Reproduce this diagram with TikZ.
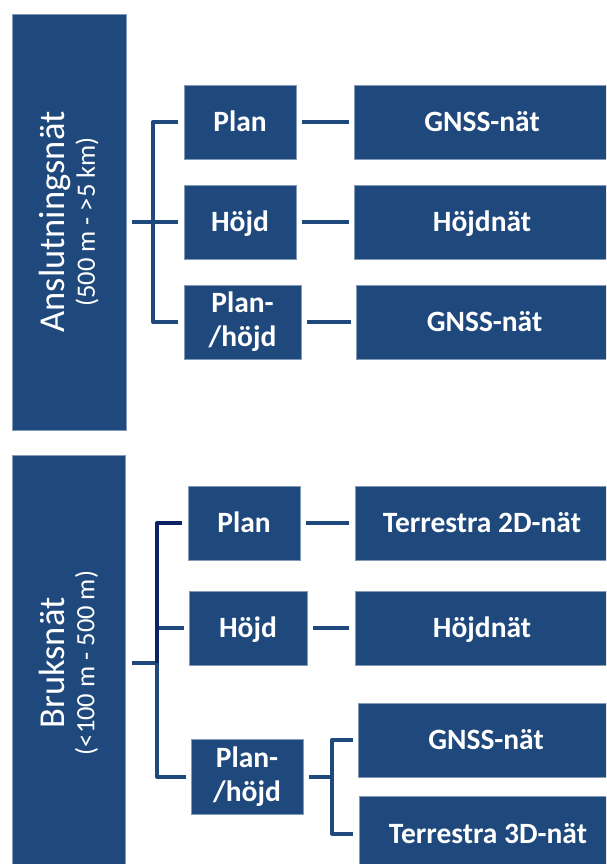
\documentclass[tikz,border=0pt]{standalone}
\usepackage{fontspec}
\setmainfont{Carlito}
\definecolor{boxblue}{HTML}{1F497D}
\definecolor{navyline}{HTML}{0B2263}
\begin{document}
\begin{tikzpicture}[x=1pt,y=-1pt,
  boxbase/.style={fill=boxblue, draw=boxblue!55!white, line width=0.6pt,
    text=white, align=center, inner sep=0pt, minimum height=74pt,
    font=\fontsize{29.5}{34}\selectfont\bfseries},
  onebox/.style={boxbase, text height=19pt, text depth=0pt},
  twobox/.style={boxbase},
  sidebox/.style={boxbase, rotate=90, minimum width=416pt,
    font=\fontsize{36.5}{30}\selectfont},
  conn/.style={draw=boxblue, line width=4pt, line join=round},
]
\useasboundingbox (0,0) rectangle (606,864);
\clip (0,0) rectangle (606,864);

% ---- Anslutningsnät ----
\node[sidebox, minimum height=114pt] (ansl) at (69,222)
  {Anslutningsnät\\{\fontsize{26.5}{30}\selectfont(500 m - >5 km)}};
\node[onebox, minimum width=112pt] (plan1) at (240,122) {Plan};
\node[onebox, minimum width=112pt] (hojd1) at (240,222) {Höjd};
\node[twobox, minimum width=117pt] (ph1) at (242.5,322) {Plan-\\/höjd};
\node[onebox, minimum width=256pt] (gnss1) at (482,122) {GNSS-nät};
\node[onebox, minimum width=256pt] (hnet1) at (482,222) {Höjdnät};
\node[onebox, minimum width=257pt] (gnss2) at (484.5,322) {GNSS-nät};

\coordinate (sp1) at (153,222);
\draw[conn] ([xshift=6pt]ansl.south) -- ([xshift=-6pt]hojd1.west);
\draw[conn] ([xshift=-6pt]plan1.west) -| (sp1) |- ([xshift=-6pt]ph1.west);
\draw[conn] ([xshift=6pt]plan1.east) -- ([xshift=-5pt]gnss1.west);
\draw[conn] ([xshift=6pt]hojd1.east) -- ([xshift=-5pt]hnet1.west);
\draw[conn] ([xshift=6pt]ph1.east) -- ([xshift=-5pt]gnss2.west);

% ---- Bruksnät ----
\node[sidebox, minimum height=113pt] (bruk) at (68.5,663)
  {Bruksnät\\{\fontsize{26.5}{30}\selectfont(<100 m - 500 m)}};
\node[onebox, minimum width=112pt] (plan2) at (244,523) {Plan};
\node[onebox, minimum width=118pt] (hojd2) at (248,628) {Höjd};
\node[twobox, minimum width=112pt, minimum height=75pt] (ph2) at (247,776.5) {Plan-\\/höjd};
\node[onebox, minimum width=254pt] (terr2) at (482,523) {Terrestra 2D-nät};
\node[onebox, minimum width=254pt] (hnet2) at (482,628) {Höjdnät};
\node[onebox, minimum width=256pt] (gnss3) at (486,740) {GNSS-nät};
\node[onebox, minimum width=258pt] (terr3) at (488,833.5) {Terrestra 3D-nät};

\coordinate (sp2) at (157,663);
\coordinate (sp3) at (332,776.5);
\draw[conn] ([xshift=7pt]bruk.south) -- (sp2) |- ([xshift=-5pt]ph2.west);
\draw[conn] (sp2 |- hojd2.west) -- ([xshift=-5pt]hojd2.west);
\draw[conn, draw=navyline] ([xshift=-6pt]plan2.west) -| (sp2);
\draw[conn] ([xshift=6pt]plan2.east) -- ([xshift=-6pt]terr2.west);
\draw[conn] ([xshift=6pt]hojd2.east) -- ([xshift=-6pt]hnet2.west);
\draw[conn] ([xshift=6pt]ph2.east) -- (sp3);
\draw[conn] ([xshift=-5pt]gnss3.west) -| (sp3) |- ([xshift=-6pt]terr3.west);
\end{tikzpicture}
\end{document}
